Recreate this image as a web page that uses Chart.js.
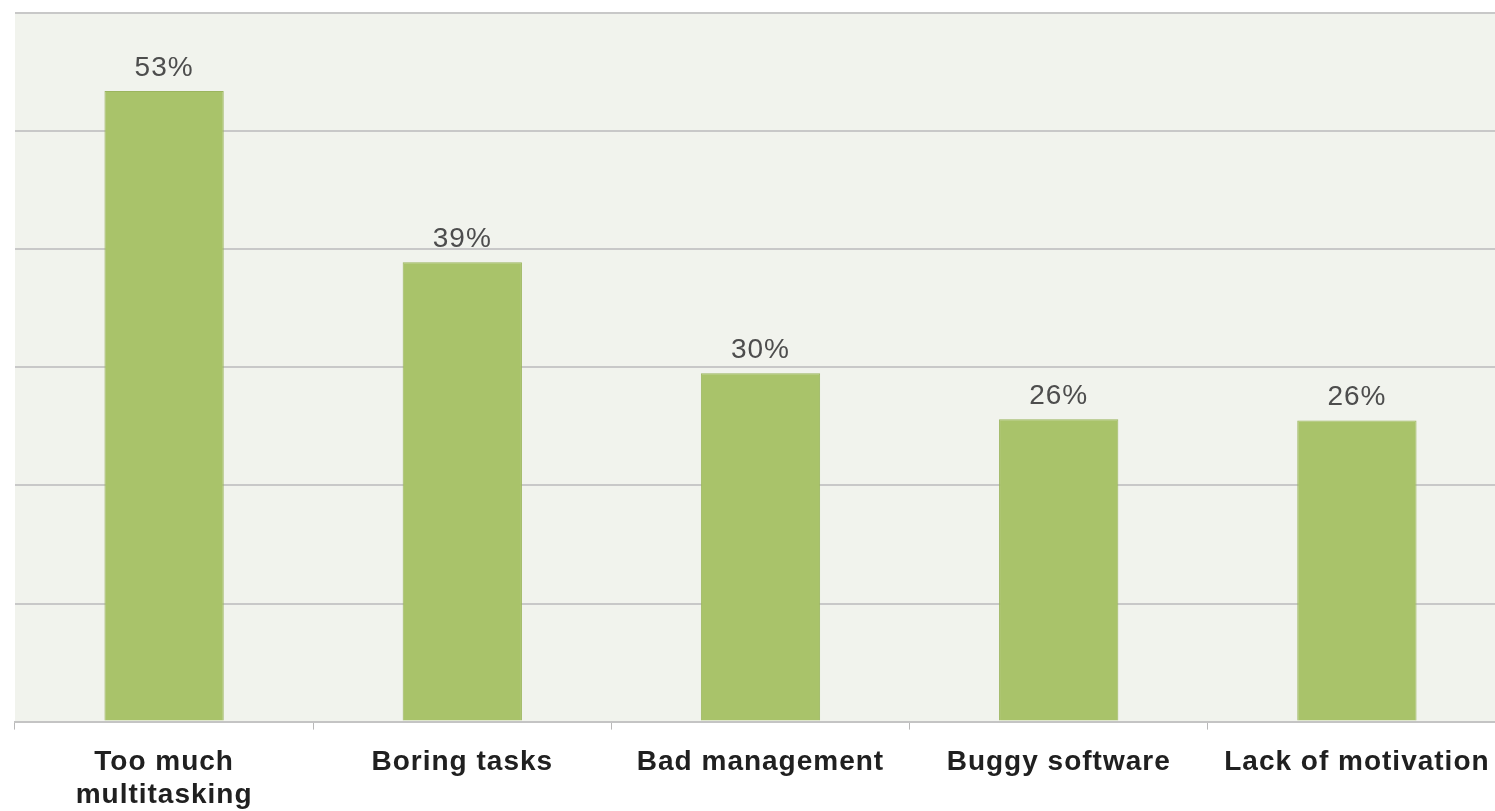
<!DOCTYPE html>
<html>
<head>
<meta charset="utf-8">
<script src="https://cdn.jsdelivr.net/npm/chart.js@4.4.0/dist/chart.umd.min.js"></script>
<style>
  html, body { margin: 0; padding: 0; background: #ffffff; overflow: hidden; }
  #wrap { width: 1506px; height: 811px; }
</style>
</head>
<body>
<div id="wrap"><canvas id="chart"></canvas></div>
<script>
const categories = [['Too much', 'multitasking'], 'Boring tasks', 'Bad management', 'Buggy software', 'Lack of motivation'];
// bar heights (labels are the rounded figures)
const shares = [53.4, 38.9, 29.5, 25.6, 25.5];
const valueLabels = ['53%', '39%', '30%', '26%', '26%'];

// plot background, a bit of letter spacing, value labels above bars
const plotBg = {
    id: 'plotBg',
    beforeDraw(chart) {
        const a = chart.chartArea;
        const c = chart.ctx;
        c.save();
        c.fillStyle = '#f1f3ed';
        c.fillRect(a.left, a.top, a.right - a.left, a.bottom - a.top);
        c.restore();
        c.letterSpacing = '1px';
    },
    afterDraw(chart) {
        chart.ctx.letterSpacing = '0px';
    }
};

const barLabels = {
    id: 'barLabels',
    afterDatasetsDraw(chart) {
        const c = chart.ctx;
        const meta = chart.getDatasetMeta(0);
        c.save();
        c.font = '28px "Liberation Sans", Arial, sans-serif';
        c.fillStyle = '#4d4d4d';
        c.textAlign = 'center';
        c.textBaseline = 'alphabetic';
        meta.data.forEach(function(bar, i) {
            c.fillText(valueLabels[i], bar.x, bar.y - 15);
        });
        c.restore();
    }
};

const ctx = document.getElementById('chart').getContext('2d');
new Chart(ctx, {
    type: 'bar',
    data: {
        labels: categories,
        datasets: [{
            data: shares,
            backgroundColor: '#a9c36a',
            borderColor: '#9bb55e',
            borderWidth: 1,
            barPercentage: 0.4,
            categoryPercentage: 1
        }]
    },
    options: {
        responsive: true,
        maintainAspectRatio: false,
        animation: false,
        layout: { padding: { left: 15, top: 13, right: 0, bottom: -17 } },
        plugins: {
            legend: { display: false },
            tooltip: { enabled: false }
        },
        scales: {
            x: {
                offset: true,
                grid: {
                    offset: true,
                    drawOnChartArea: false,
                    drawTicks: true,
                    tickLength: 8,
                    color: '#b8b8b8'
                },
                border: { display: true, color: '#c4c4c4', width: 2 },
                ticks: {
                    color: '#202020',
                    padding: 17,
                    maxRotation: 0,
                    autoSkip: false,
                    font: { family: '"Liberation Sans", Arial, sans-serif', size: 28, weight: 'bold', lineHeight: 1.15 }
                }
            },
            y: {
                min: 0,
                max: 60,
                afterFit(scale) { scale.width = 0; },
                ticks: { display: false, stepSize: 10 },
                border: { display: false },
                grid: { color: '#c8c8c8', lineWidth: 2, drawTicks: false }
            }
        }
    },
    plugins: [plotBg, barLabels]
});
</script>
</body>
</html>
